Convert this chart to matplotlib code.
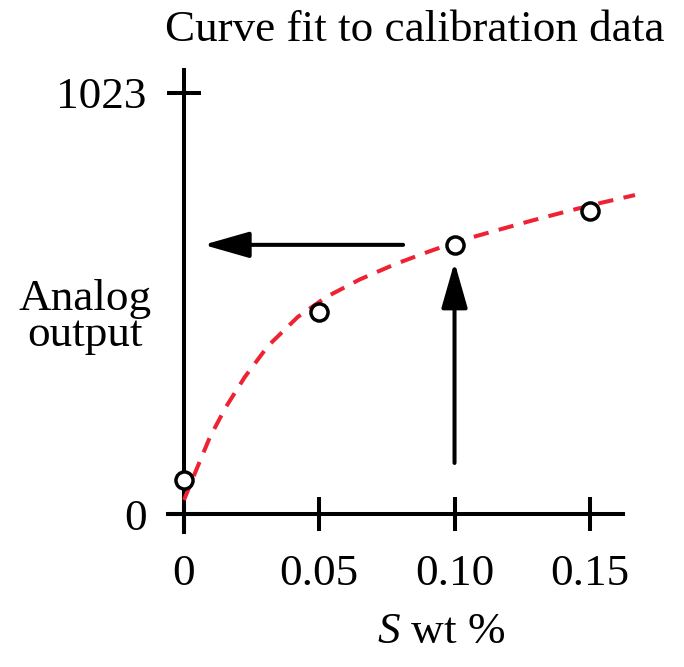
import matplotlib
matplotlib.use("Agg")
import matplotlib.pyplot as plt

# calibration data points
s_wt = [0.0, 0.05, 0.10, 0.15]
analog = [83, 491, 654, 736]

# fitted curve
fit_x = [0.0, 0.0041, 0.0096, 0.0155, 0.0225, 0.031, 0.0421, 0.0525, 0.065,
         0.078, 0.0902, 0.102, 0.116, 0.1286, 0.1419, 0.1541, 0.1667]
fit_y = [34, 100, 187, 260, 333, 408, 479, 527, 570,
         607, 637, 664, 690, 713, 736, 756, 775]

xticks = [0, 0.05, 0.10, 0.15]
xtick_labels = ["0", "0.05", "0.10", "0.15"]
yticks = [0, 1023]
ytick_labels = ["0", "1023"]

# arrows: read-off value
read_x = 0.10
read_y = 654

plt.rcParams['font.family'] = ['Liberation Serif', 'DejaVu Serif']
plt.rcParams['mathtext.fontset'] = 'custom'
plt.rcParams['mathtext.rm'] = 'Liberation Serif'
plt.rcParams['mathtext.it'] = 'Liberation Serif:italic'

FS = 32.5
W, H = 684, 667
fig = plt.figure(figsize=(W / 100, H / 100), dpi=100)
# axes pixel box: left 168, right 645, top 65, bottom 535
l, r, t, b = 168, 645, 65, 535
ax = fig.add_axes([l / W, 1 - b / H, (r - l) / W, (b - t) / H])
ax.set_xlim(-0.0059, 0.1704)
ax.set_ylim(-51, 1091)

lw = 2.9
for s in ['top', 'right']:
    ax.spines[s].set_visible(False)
ax.spines['left'].set_position(('data', 0))
ax.spines['bottom'].set_position(('data', 0))
ax.spines['left'].set_bounds(-44, 1079)
ax.spines['bottom'].set_bounds(-0.0059, 0.1622)
for s in ['left', 'bottom']:
    ax.spines[s].set_linewidth(lw)
    ax.spines[s].set_zorder(1)

ax.set_xticks(xticks)
ax.set_xticklabels(xtick_labels)
ax.set_yticks(yticks)
ax.set_yticklabels(ytick_labels)
ax.tick_params(direction='inout', length=25, width=lw, labelsize=FS)
ax.tick_params(axis='x', pad=16)
ax.tick_params(axis='y', pad=14.5)

ax.plot(fit_x, fit_y, color='#ee2233', lw=lw, dashes=(3.8, 2.6), zorder=2,
        solid_capstyle='butt', clip_on=False)
ax.plot(s_wt, analog, 'o', ms=12.3, mfc='white', mec='black', mew=2.5, zorder=4,
        clip_on=False)

arrow_style = '-|>,head_length=1.4,head_width=0.4'
ax.annotate('', xy=(0.0072, read_y), xytext=(0.081, read_y),
            arrowprops=dict(arrowstyle=arrow_style, lw=lw, color='black',
                            mutation_scale=20, shrinkA=0, shrinkB=0), zorder=3)
ax.annotate('', xy=(read_x, 612), xytext=(read_x, 124),
            arrowprops=dict(arrowstyle=arrow_style, lw=lw, color='black',
                            mutation_scale=20, shrinkA=0, shrinkB=0), zorder=3)

fig.text(415 / W, 1 - 30 / H, "Curve fit to calibration data", fontsize=FS,
         ha='center', va='center')
fig.text(85 / W, 1 - 317 / H, "Analog\noutput", fontsize=FS, ha='center',
         va='center', linespacing=0.9)
fig.text(441 / W, 1 - 632 / H, r"$\mathit{S}$ wt %", fontsize=FS, ha='center',
         va='center')

fig.savefig("out.png", dpi=100)
